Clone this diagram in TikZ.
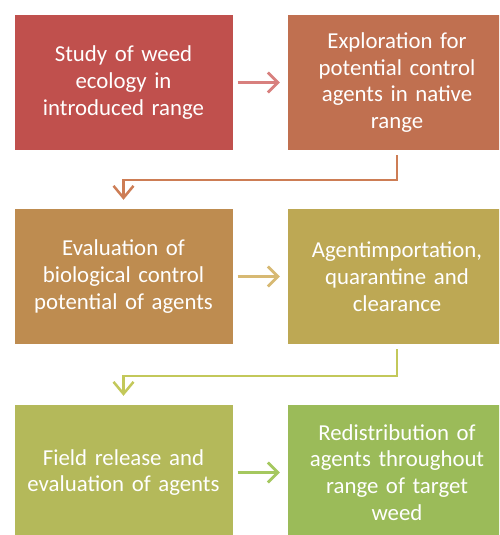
\documentclass[tikz,border=0pt]{standalone}
\usepackage{fontspec}
\setmainfont{Carlito}
\usetikzlibrary{arrows.meta,positioning}
\definecolor{stepred}{HTML}{C0504D}
\definecolor{steprust}{HTML}{C07050}
\definecolor{stepochre}{HTML}{BE8C50}
\definecolor{stepolive}{HTML}{BDA854}
\definecolor{steplime}{HTML}{B4B95A}
\definecolor{stepgreen}{HTML}{9BBB59}
\definecolor{arrred}{HTML}{D8807E}
\definecolor{arrrust}{HTML}{CD7D55}
\definecolor{arrtan}{HTML}{D7B973}
\definecolor{arrlime}{HTML}{C3C85A}
\definecolor{arrgreen}{HTML}{A5C85F}

\begin{document}
\begin{tikzpicture}[
  x=1pt, y=-1pt,
  stepbox/.style={fill=#1, minimum width=218pt, minimum height=135pt, text width=214pt, inner sep=0pt, align=center, text=white, font=\fontsize{22.8}{26.7}\selectfont},
  hop/.style={-{Straight Barb[length=10pt, width=20pt, line width=2.8pt]}, line width=3.8pt, color=#1, shorten <=5pt, shorten >=8pt},
  turn/.style={-{Straight Barb[length=12pt, width=20pt, line width=2.5pt]}, line width=2.5pt, color=#1, shorten <=5pt, shorten >=9pt},
]
  \useasboundingbox (0,0) rectangle (499,535);
  \clip (0,0) rectangle (499,535);

  \node[stepbox=stepred] (study) at (123.5,82.5) {Study of weed\\ecology in\\introduced range};
  \node[stepbox=steprust] (explore) at (397,82.5) {Exploration for\\potential control\\agents in native\\range};
  \node[stepbox=stepochre] (evaluate) at (123.5,276.5) {Evaluation of\\biological control\\potential of agents};
  \node[stepbox=stepolive] (import) at (397,276.5) {Agentimportation,\\quarantine and\\clearance};
  \node[stepbox=steplime] (release) at (123.5,472.5) {Field release and\\evaluation of agents};
  \node[stepbox=stepgreen] (spread) at (397,472.5) {Redistribution of\\agents throughout\\range of target\\weed};

  \draw[hop=arrred] (study) -- (explore);
  \draw[turn=arrrust] (explore.south) -- ++(0,30) -| (evaluate.north);
  \draw[hop=arrtan] (evaluate) -- (import);
  \draw[turn=arrlime] (import.south) -- ++(0,32) -| (release.north);
  \draw[hop=arrgreen] (release) -- (spread);
\end{tikzpicture}
\end{document}
